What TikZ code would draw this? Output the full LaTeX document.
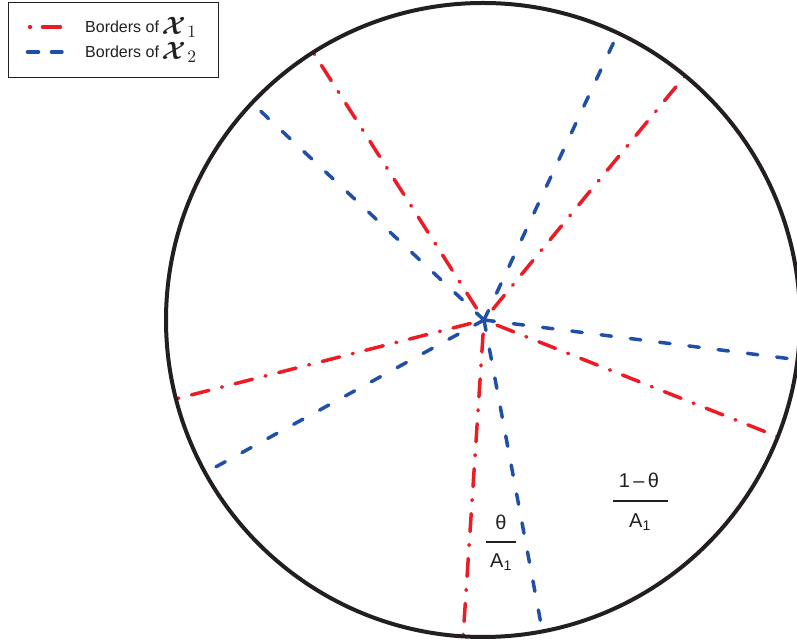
\documentclass[tikz,border=0pt]{standalone}
\usepackage{fontspec}
\usepackage{bm}
\setmainfont{Liberation Sans}
\usetikzlibrary{calc}
\definecolor{bred}{RGB}{237,28,36}
\definecolor{bblue}{RGB}{33,79,168}
\definecolor{ink}{RGB}{35,31,32}
\newcommand{\calX}[1]{{\fontsize{10}{12}\selectfont\raisebox{-1.5pt}{\scalebox{2.5}{$\bm{\mathcal{X}}$}}\,\raisebox{-5pt}{\scalebox{1.75}{$#1$}}}}
\begin{document}
\begin{tikzpicture}[x=1pt,y=1pt,
  redline/.style={bred, line width=3.5pt, line cap=round, dash pattern=on 1pt off 13pt on 18pt off 13pt},
  blueline/.style={bblue, line width=3.5pt, line cap=round, dash pattern=on 10.5pt off 19pt},
  lbl/.style={font=\fontsize{20}{22}\selectfont, text=ink, inner sep=0pt},
  legtext/.style={font=\fontsize{16}{18}\selectfont, text=ink, inner sep=0pt, anchor=base west},
  fracbar/.style={ink, line width=1.4pt}]
\useasboundingbox (0,0) rectangle (797,642);
\clip (0,0) rectangle (797,642);
\coordinate (O) at (483,322);
\coordinate (C) at (484,322);
\foreach \i/\a in {1/50.4, 2/122.4, 3/194.4, 4/266.4, 5/338.4}
  \coordinate (R\i) at ($(O)+(\a:317)$);
\foreach \i/\a in {1/64.8, 2/136.8, 3/208.8, 4/280.8, 5/352.8}
  \coordinate (B\i) at ($(O)+(\a:317)$);
\foreach \i in {1,...,5} \draw[redline] (C) -- (R\i);
\foreach \i in {1,...,5} \draw[blueline] (C) -- (B\i);
\draw[ink, line width=4pt] (O) circle (317);
% fractions
\node[lbl] (n1) at (501,120) {θ};
\coordinate (b1l) at (486,100); \coordinate (b1r) at (516,100);
\draw[fracbar] (b1l) -- (b1r);
\node[lbl] (d1) at (501,80) {A\textsubscript{1}};
\node[lbl] (n2) at (639,162) {1\,–\,θ};
\coordinate (b2l) at (613,141); \coordinate (b2r) at (668,141);
\draw[fracbar] (b2l) -- (b2r);
\node[lbl] (d2) at (640,120) {A\textsubscript{1}};
% legend
\node (legend) [draw=ink, line width=1pt, minimum width=210pt, minimum height=75pt, inner sep=0pt] at (113,601.5) {};
\coordinate (lr1a) at (29.5,615); \coordinate (lr1b) at (60.5,615);
\draw[bred, line width=3.5pt, line cap=round, dash pattern=on 1pt off 12pt on 18pt off 5pt] (lr1a) -- (lr1b);
\coordinate (lb1a) at (27.5,590); \coordinate (lb1b) at (62,590);
\draw[bblue, line width=3.5pt, line cap=round, dash pattern=on 11pt off 13pt] (lb1a) -- (lb1b);
\node[legtext] (t1) at (85,609) {Borders of\,\calX{1}};
\node[legtext] (t2) at (85,584) {Borders of\,\calX{2}};
\end{tikzpicture}
\end{document}
